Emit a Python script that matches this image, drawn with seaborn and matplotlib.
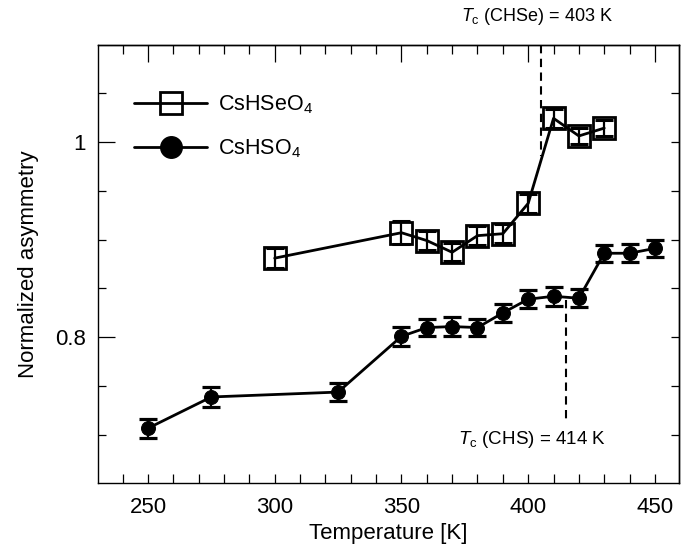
import numpy as np
import pandas as pd
import matplotlib
matplotlib.use("Agg")
import matplotlib.pyplot as plt
import seaborn as sns
from matplotlib.lines import Line2D
from matplotlib.ticker import MultipleLocator

# ---- data ----
temp_chs = [250, 275, 325, 350, 360, 370, 380, 390, 400, 410, 420, 430, 440, 450]
asym_chs = [0.707, 0.739, 0.744, 0.801, 0.810, 0.811, 0.810, 0.825, 0.839, 0.842, 0.840, 0.886, 0.886, 0.891]
err_chs = [0.0095, 0.010, 0.0094, 0.0094, 0.009, 0.0095, 0.009, 0.009, 0.009, 0.0097, 0.009, 0.0085, 0.009, 0.009]

temp_chse = [300, 350, 360, 370, 380, 390, 400, 410, 420, 430]
asym_chse = [0.881, 0.907, 0.899, 0.887, 0.904, 0.906, 0.937, 1.024, 1.006, 1.014]
err_chse = [0.010, 0.012, 0.010, 0.009, 0.010, 0.010, 0.010, 0.010, 0.008, 0.008]

label_chse = "CsHSeO$_4$"
label_chs = "CsHSO$_4$"
tc_chse_text = "$T_\\mathrm{c}$ (CHSe) = 403 K"
tc_chs_text = "$T_\\mathrm{c}$ (CHS) = 414 K"
tc_chse_line = 405
tc_chs_line = 415

df_chs = pd.DataFrame({"T": temp_chs, "A": asym_chs})
df_chse = pd.DataFrame({"T": temp_chse, "A": asym_chse})

# ---- style ----
sns.set_style("ticks")
plt.rcParams["font.family"] = ["Liberation Sans", "DejaVu Sans"]
plt.rcParams["mathtext.fontset"] = "custom"
plt.rcParams["mathtext.rm"] = "Liberation Sans"
plt.rcParams["mathtext.it"] = "Liberation Sans:italic"
plt.rcParams["mathtext.bf"] = "Liberation Sans:bold"
plt.rcParams["text.color"] = "black"
plt.rcParams["axes.labelcolor"] = "black"
plt.rcParams["xtick.color"] = "black"
plt.rcParams["ytick.color"] = "black"
plt.rcParams["axes.edgecolor"] = "black"

fig = plt.figure(figsize=(6.86, 5.47), dpi=100)
ax = fig.add_axes([0.1429, 0.117, 0.8469, 0.8007])

# CsHSeO4
sns.lineplot(data=df_chse, x="T", y="A", ax=ax, color="black", lw=2.0,
             marker="s", markersize=16, markerfacecolor="none",
             markeredgecolor="black", markeredgewidth=2.0, zorder=3)
ax.errorbar(temp_chse, asym_chse, yerr=err_chse, fmt="none", ecolor="black",
            elinewidth=1.6, capsize=6.5, capthick=2.2, zorder=4)

# CsHSO4
sns.lineplot(data=df_chs, x="T", y="A", ax=ax, color="black", lw=2.0,
             marker="o", markersize=10, markerfacecolor="black",
             markeredgecolor="black", zorder=3)
ax.errorbar(temp_chs, asym_chs, yerr=err_chs, fmt="none", ecolor="black",
            elinewidth=1.6, capsize=6.3, capthick=2.3, zorder=4)

ax.set_xlim(230.3, 459.5)
ax.set_ylim(0.651, 1.099)

# Tc markers
ax.plot([tc_chse_line, tc_chse_line], [1.099, 0.985], color="black", lw=1.5,
        ls=(0, (4, 2.6)), zorder=2)
ax.plot([tc_chs_line, tc_chs_line], [0.838, 0.716], color="black", lw=1.5,
        ls=(0, (4, 2.6)), zorder=2)
ax.text(403.5, 1.128, tc_chse_text, ha="center", va="center", fontsize=13,
        clip_on=False)
ax.text(401.5, 0.695, tc_chs_text, ha="center", va="center", fontsize=13.5)

# axes & ticks
ax.set_xlabel("Temperature [K]", fontsize=16, labelpad=4)
ax.set_ylabel("Normalized asymmetry", fontsize=16, labelpad=11)
ax.xaxis.set_major_locator(MultipleLocator(50))
ax.xaxis.set_minor_locator(MultipleLocator(10))
ax.yaxis.set_major_locator(MultipleLocator(0.2))
ax.yaxis.set_minor_locator(MultipleLocator(0.05))
ax.yaxis.set_major_formatter(matplotlib.ticker.FuncFormatter(lambda v, p: f"{v:g}"))

for s in ax.spines.values():
    s.set_linewidth(1.0)
    s.set_color("black")

ax.tick_params(axis="x", which="both", direction="in", length=6.5, width=0.9,
               labelsize=16, pad=10, bottom=True, top=False)
ax.tick_params(axis="y", which="major", direction="in", length=12, width=0.9,
               labelsize=16, pad=9, left=True, right=False)
ax.tick_params(axis="y", which="minor", direction="in", length=6, width=0.9,
               left=True, right=False)

secx = ax.secondary_xaxis("top")
secx.xaxis.set_major_locator(MultipleLocator(50))
secx.xaxis.set_minor_locator(MultipleLocator(10))
secx.tick_params(which="major", direction="in", length=12, width=0.9, labeltop=False)
secx.tick_params(which="minor", direction="in", length=6.5, width=0.9)
secx.spines["top"].set_linewidth(1.0)

secy = ax.secondary_yaxis("right")
secy.yaxis.set_major_locator(MultipleLocator(0.2))
secy.yaxis.set_minor_locator(MultipleLocator(0.05))
secy.tick_params(which="both", direction="in", length=6, width=0.9, labelright=False)
secy.spines["right"].set_linewidth(1.0)

# legend
h1 = Line2D([], [], color="black", lw=2.0, marker="s", markersize=16,
            markerfacecolor="none", markeredgecolor="black", markeredgewidth=2.0)
h2 = Line2D([], [], color="black", lw=2.0, marker="o", markersize=15.5,
            markerfacecolor="black")
ax.legend([h1, h2], [label_chse, label_chs], loc="upper left",
          bbox_to_anchor=(0.062, 0.89), frameon=False, fontsize=15.5,
          handlelength=3.4, handletextpad=0.5, labelspacing=1.02,
          borderpad=0, borderaxespad=0)

fig.savefig("out.png", dpi=100)
